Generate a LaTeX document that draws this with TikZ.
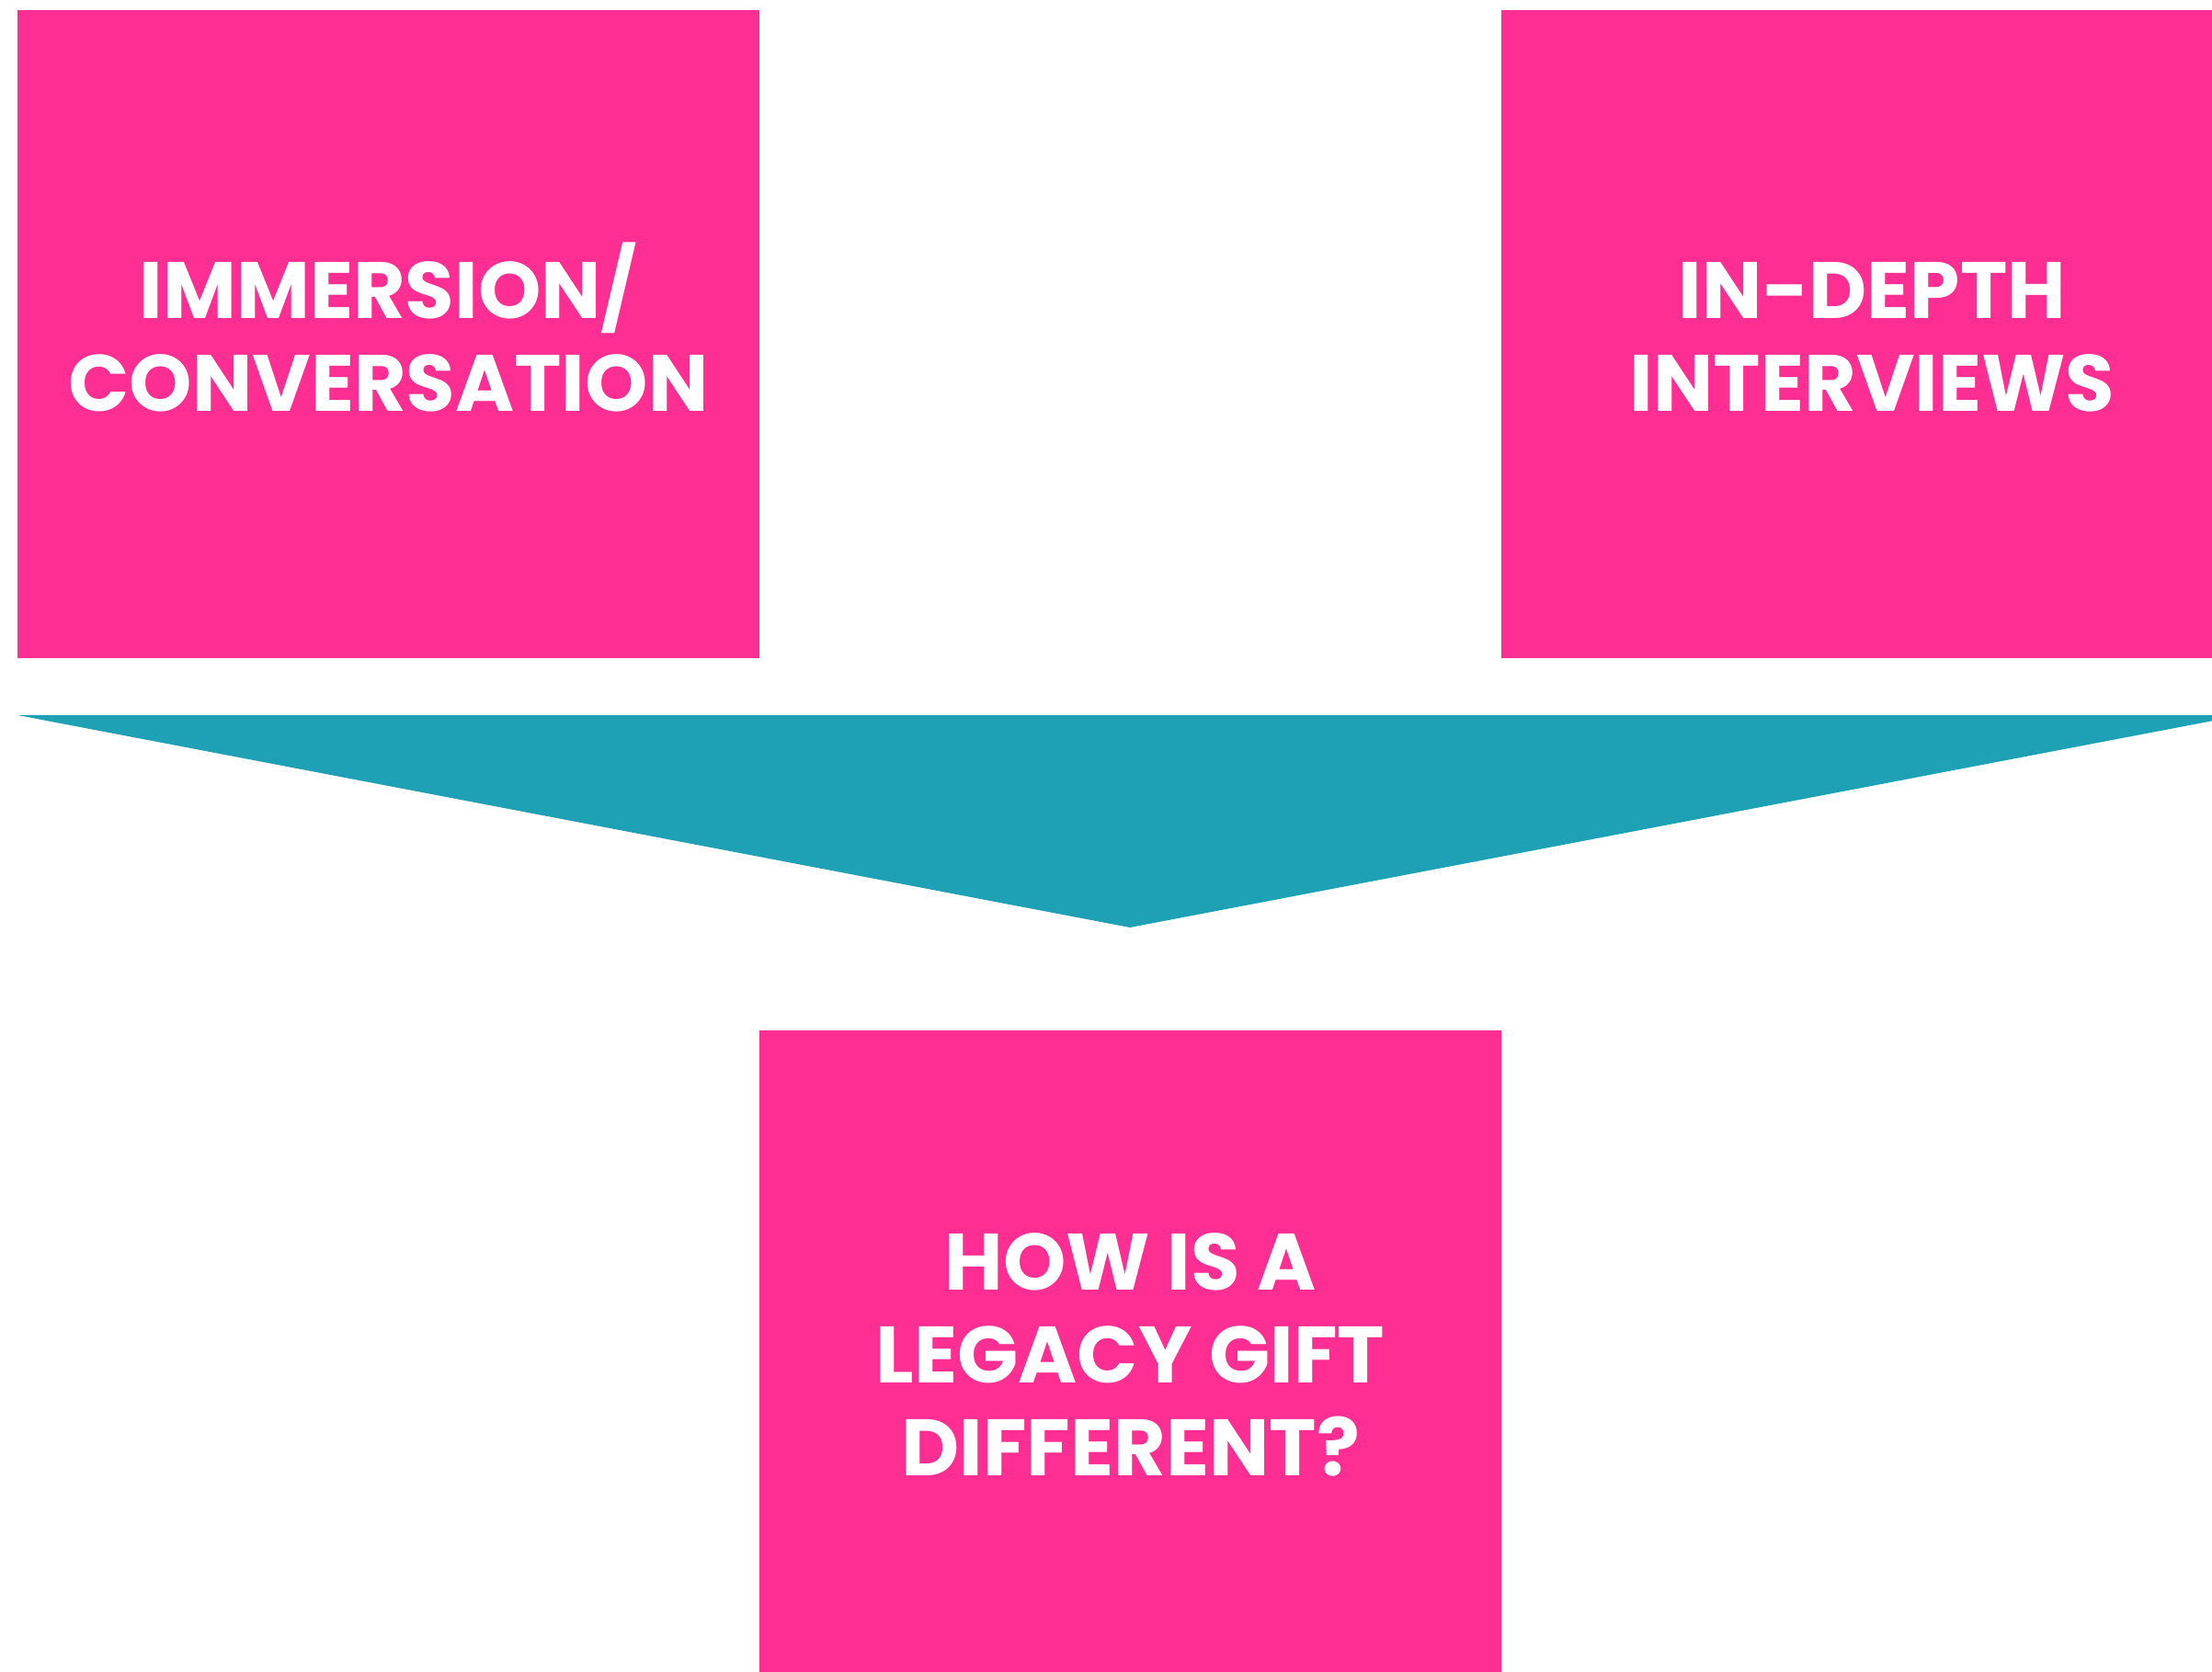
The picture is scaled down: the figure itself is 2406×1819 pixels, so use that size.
\documentclass[tikz,border=0pt]{standalone}
\usepackage{fontspec}
\newfontfamily\lblfont{Poppins}
\definecolor{hotpink}{HTML}{FE2E92}
\definecolor{tealc}{HTML}{1EA1B5}
\tikzset{
  box/.style={fill=hotpink, inner sep=0pt, minimum width=807pt, minimum height=705pt,
    text=white, align=center, font=\lblfont\bfseries\fontsize{87}{101}\selectfont},
}
\begin{document}
\begin{tikzpicture}[x=1pt,y=-1pt]
\useasboundingbox (0,0) rectangle (2406,1819);
\clip (0,0) rectangle (2406,1819);
\node[box] (imm) at (422.5,363.5) {};
\node[box] (idi) at (2036.5,363.5) {};
\node[text=white, align=center, inner sep=0pt, font=\lblfont\bfseries\fontsize{87}{101}\selectfont] at (imm.center) [yshift=-3pt] {IMMERSION\smash{/}\\CONVERSATION};
\node[text=white, align=center, inner sep=0pt, font=\lblfont\bfseries\fontsize{87}{101}\selectfont] at (idi.center) [yshift=-3pt] {IN-DEPTH\\INTERVIEWS};
\fill[tealc] (19,778) -- (2439,778) -- (1229,1009) -- cycle;
\node[box, minimum height=706pt] (q) at (1229.5,1474) {HOW IS A\\LEGACY GIFT\\DIFFERENT?};
\end{tikzpicture}
\end{document}
